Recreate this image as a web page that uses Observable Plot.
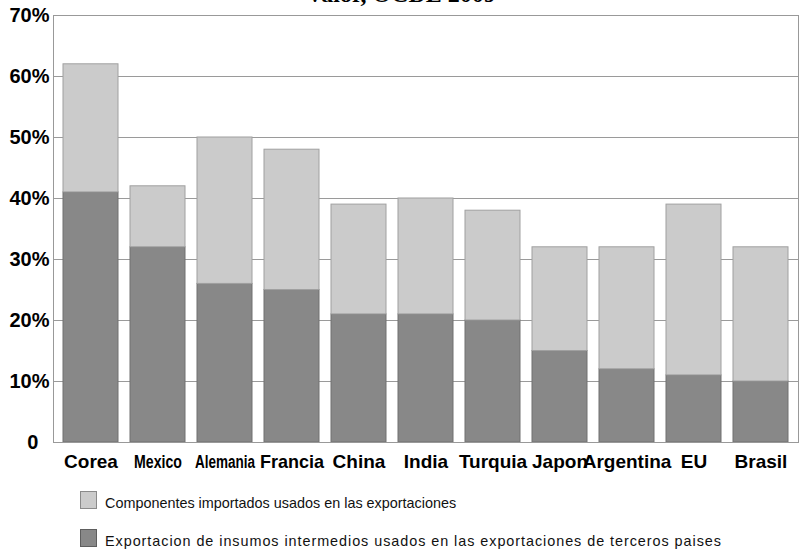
<!DOCTYPE html>
<html>
<head>
<meta charset="utf-8">
<script src="https://cdn.jsdelivr.net/npm/d3@7"></script>
<script src="https://cdn.jsdelivr.net/npm/@observablehq/plot@0.6"></script>
<style>
  html, body { margin: 0; padding: 0; background: #fff; overflow: hidden; }
  #wrap { position: relative; width: 802px; height: 556px; }
  #titulo {
    position: absolute; left: 0; width: 802px; top: -18px; z-index: 2;
    text-align: center; font: bold 24px/24px "Liberation Serif", "Times New Roman", serif; color: #000;
  }
  #grafico { position: absolute; left: 0; top: 0; z-index: 1; }
  .ley { position: absolute; left: 80px; width: 17px; height: 18px; box-sizing: border-box; }
  .ley-txt { position: absolute; left: 105px; font: 14.4px/16px "Liberation Sans", Arial, sans-serif; color: #111; white-space: nowrap; }
</style>
</head>
<body>
<div id="wrap">
  <div id="titulo">Valor, OCDE 2009</div>
  <div id="grafico"></div>
  <div class="ley" style="top:491px;background:#cbcbcb;border:1px solid #8a8a8a"></div>
  <div class="ley-txt" style="top:495px">Componentes importados usados en las exportaciones</div>
  <div class="ley" style="top:529px;background:#888888;border:1px solid #5e5e5e"></div>
  <div class="ley-txt" style="top:533px;letter-spacing:0.95px">Exportacion de insumos intermedios usados en las exportaciones de terceros paises</div>
</div>
<script>
// Países en el orden del gráfico
const paises = ["Corea", "Mexico", "Alemania", "Francia", "China", "India", "Turquia", "Japon", "Argentina", "EU", "Brasil"];
// Exportación de insumos intermedios usados en exportaciones de terceros (%)
const insumos = [41, 32, 26, 25, 21, 21, 20, 15, 12, 11, 10];
// Componentes importados usados en las exportaciones (%)
const importados = [21, 10, 24, 23, 18, 19, 18, 17, 20, 28, 22];
// Marcas del eje vertical (%)
const marcasY = [0, 10, 20, 30, 40, 50, 60, 70];
// Etiquetas que se dibujan comprimidas, con su ancho en píxeles
const comprimidas = new Map([["Mexico", 48], ["Alemania", 60], ["Francia", 64]]);

const filas = paises.map((pais, i) => ({pais, insumos: insumos[i], importados: importados[i]}));

const chart = Plot.plot({
  width: 802,
  height: 480,
  marginTop: 15,
  marginBottom: 38,
  marginLeft: 53,
  marginRight: 4,
  style: {fontFamily: "'Liberation Sans', Arial, sans-serif", background: "transparent"},
  x: {domain: paises, paddingInner: 0.18, paddingOuter: 0.11, label: null},
  y: {domain: [0, 70], label: null},
  marks: [
    Plot.gridY(marcasY, {stroke: "#9a9a9a", strokeOpacity: 1}),
    Plot.barY(filas, {x: "pais", y1: 0, y2: "insumos", fill: "#888888", stroke: "#707070", strokeWidth: 1}),
    Plot.barY(filas, {x: "pais", y1: "insumos", y2: d => d.insumos + d.importados, fill: "#cbcbcb", stroke: "#a0a0a0", strokeWidth: 1}),
    Plot.frame({stroke: "#999999"}),
    Plot.axisY(marcasY, {
      tickSize: 0, tickPadding: 4,
      tickFormat: d => d === 0 ? "0\u2007" : d + "%",
      fontSize: 20, fontWeight: "bold", fill: "#000", label: null
    }),
    Plot.axisX({
      tickSize: 0, tickPadding: 12,
      fontSize: 19, fontWeight: "bold", fill: "#000", label: null
    })
  ]
});

document.getElementById("grafico").append(chart);

// Comprime horizontalmente los nombres largos para que no se toquen
d3.select(chart).selectAll('g[aria-label="x-axis tick label"] text').each(function () {
  const t = d3.select(this);
  const ancho = comprimidas.get(t.text());
  if (!ancho) return;
  const natural = this.getComputedTextLength();
  if (natural > 0) {
    const base = t.attr("transform") || "";
    t.attr("transform", `${base} scale(${ancho / natural},1)`);
  }
});
</script>
</body>
</html>
